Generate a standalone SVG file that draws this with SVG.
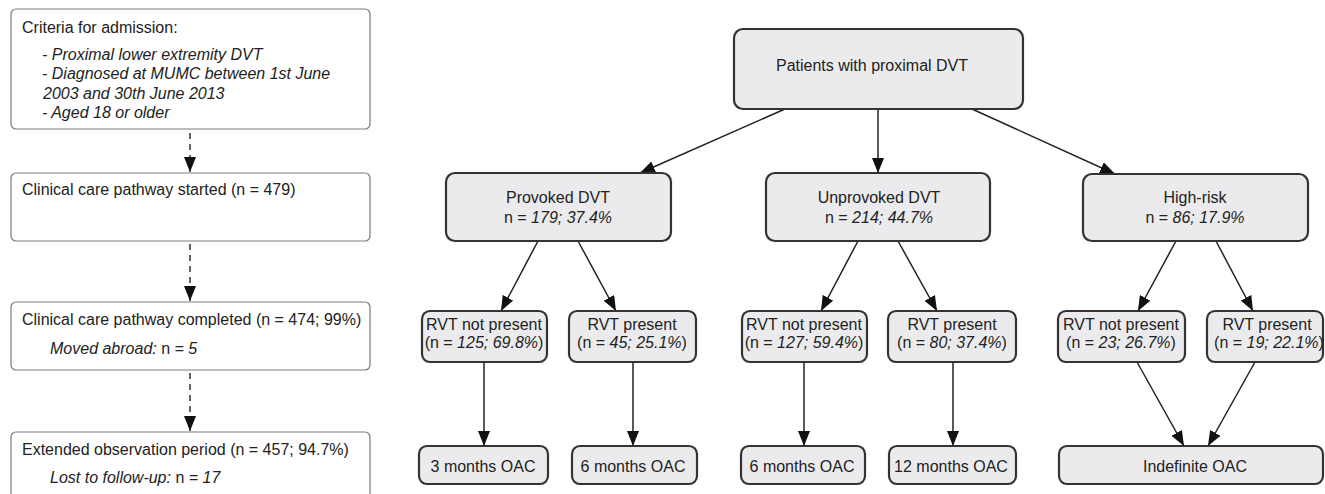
<svg xmlns="http://www.w3.org/2000/svg" width="1325" height="494" viewBox="0 0 1325 494">
<style>
text{font-family:"Liberation Sans",Arial,sans-serif;font-size:16px;fill:#222}
.i{font-style:italic}
.lb{fill:#fff;stroke:#7a7a7a;stroke-width:1.2}
.nb{fill:#ebebed;stroke:#333;stroke-width:2.2}
.c{stroke:#222;stroke-width:1.5;fill:none;marker-end:url(#ah)}
.d{stroke:#333;stroke-width:1.5;fill:none;stroke-dasharray:6 5;marker-end:url(#ah)}
.m{text-anchor:middle}
</style>
<defs>
<marker id="ah" markerUnits="userSpaceOnUse" markerWidth="15" markerHeight="12" refX="15" refY="6" orient="auto">
<path d="M0,0 L15,6 L0,12 z" fill="#111"/>
</marker>
</defs>
<rect width="1325" height="494" fill="#fff"/>

<g id="connectors">
<line class="d" x1="190" y1="133" x2="190" y2="172"/>
<line class="d" x1="190" y1="244" x2="190" y2="301"/>
<line class="d" x1="190" y1="373" x2="190" y2="431"/>
<line class="c" x1="785" y1="109" x2="640" y2="173"/>
<line class="c" x1="878" y1="109" x2="878" y2="173"/>
<line class="c" x1="972" y1="109" x2="1115" y2="174"/>
<line class="c" x1="538" y1="241" x2="501" y2="311"/>
<line class="c" x1="578" y1="241" x2="616" y2="311"/>
<line class="c" x1="858" y1="241" x2="821" y2="311"/>
<line class="c" x1="898" y1="241" x2="937" y2="311"/>
<line class="c" x1="1176" y1="241" x2="1138" y2="311"/>
<line class="c" x1="1216" y1="241" x2="1253" y2="311"/>
<line class="c" x1="484" y1="362" x2="484" y2="446"/>
<line class="c" x1="633" y1="362" x2="633" y2="446"/>
<line class="c" x1="804" y1="362" x2="804" y2="446"/>
<line class="c" x1="953" y1="362" x2="953" y2="446"/>
<line class="c" x1="1137" y1="362" x2="1184" y2="446"/>
<line class="c" x1="1255" y1="362" x2="1208" y2="446"/>
</g>

<g id="criteria">
<rect class="lb" x="11" y="9" width="359" height="120" rx="5"/>
<text x="22" y="33">Criteria for admission:</text>
<text class="i" x="42" y="60">- Proximal lower extremity DVT</text>
<text class="i" x="42" y="79">- Diagnosed at MUMC between 1st June</text>
<text class="i" x="43" y="99">2003 and 30th June 2013</text>
<text class="i" x="42" y="118">- Aged 18 or older</text>
</g>
<g id="started">
<rect class="lb" x="11" y="173" width="359" height="68" rx="5"/>
<text x="22" y="195">Clinical care pathway started (n = 479)</text>
</g>
<g id="completed">
<rect class="lb" x="11" y="302" width="359" height="68" rx="5"/>
<text x="22" y="325">Clinical care pathway completed (n = 474; 99%)</text>
<text x="50" y="354"><tspan class="i">Moved abroad:</tspan> n <tspan class="i">= 5</tspan></text>
</g>
<g id="extended">
<rect class="lb" x="11" y="432" width="359" height="80" rx="5"/>
<text x="22" y="455">Extended observation period (n = 457; 94.7%)</text>
<text x="50" y="483"><tspan class="i">Lost to follow-up:</tspan> n <tspan class="i">= 17</tspan></text>
</g>

<g id="patients">
<rect class="nb" x="734" y="29" width="289" height="80" rx="9"/>
<text class="m" x="872" y="71">Patients with proximal DVT</text>
</g>
<g id="provoked">
<rect class="nb" x="446" y="173" width="225" height="68" rx="9"/>
<text class="m" x="558" y="203">Provoked DVT</text>
<text class="m" x="558" y="223">n = <tspan class="i">179; 37.4%</tspan></text>
</g>
<g id="unprovoked">
<rect class="nb" x="766" y="173" width="224" height="68" rx="9"/>
<text class="m" x="879" y="203">Unprovoked DVT</text>
<text class="m" x="879" y="223">n = <tspan class="i">214; 44.7%</tspan></text>
</g>
<g id="highrisk">
<rect class="nb" x="1083" y="174" width="225" height="67" rx="9"/>
<text class="m" x="1195" y="203">High-risk</text>
<text class="m" x="1195" y="223">n = <tspan class="i">86; 17.9%</tspan></text>
</g>

<g id="p-not">
<rect class="nb" x="422" y="311" width="125" height="51" rx="8"/>
<text class="m" x="484" y="330">RVT not present</text>
<text class="m" x="484" y="348">(n = <tspan class="i">125; 69.8%</tspan>)</text>
</g>
<g id="p-yes">
<rect class="nb" x="569" y="311" width="127" height="51" rx="8"/>
<text class="m" x="632" y="330">RVT present</text>
<text class="m" x="632" y="348">(n = <tspan class="i">45; 25.1%</tspan>)</text>
</g>
<g id="u-not">
<rect class="nb" x="742" y="311" width="125" height="51" rx="8"/>
<text class="m" x="804" y="330">RVT not present</text>
<text class="m" x="804" y="348">(n = <tspan class="i">127; 59.4%</tspan>)</text>
</g>
<g id="u-yes">
<rect class="nb" x="888" y="311" width="128" height="51" rx="8"/>
<text class="m" x="952" y="330">RVT present</text>
<text class="m" x="952" y="348">(n = <tspan class="i">80; 37.4%</tspan>)</text>
</g>
<g id="h-not">
<rect class="nb" x="1058" y="311" width="127" height="51" rx="8"/>
<text class="m" x="1121" y="330">RVT not present</text>
<text class="m" x="1121" y="348">(n = <tspan class="i">23; 26.7%</tspan>)</text>
</g>
<g id="h-yes">
<rect class="nb" x="1207" y="311" width="116" height="51" rx="8"/>
<text class="m" x="1267" y="330">RVT present</text>
<text class="m" x="1269" y="348">(n = <tspan class="i">19; 22.1%</tspan>)</text>
</g>

<g id="oac3">
<rect class="nb" x="419" y="446" width="129" height="38" rx="8"/>
<text class="m" x="483" y="472">3 months OAC</text>
</g>
<g id="oac6a">
<rect class="nb" x="572" y="446" width="125" height="38" rx="8"/>
<text class="m" x="633" y="472">6 months OAC</text>
</g>
<g id="oac6b">
<rect class="nb" x="741" y="446" width="124" height="38" rx="8"/>
<text class="m" x="802" y="472">6 months OAC</text>
</g>
<g id="oac12">
<rect class="nb" x="889" y="446" width="127" height="38" rx="8"/>
<text class="m" x="951" y="472">12 months OAC</text>
</g>
<g id="oacind">
<rect class="nb" x="1059" y="446" width="264" height="38" rx="8"/>
<text class="m" x="1195" y="472">Indefinite OAC</text>
</g>
</svg>
